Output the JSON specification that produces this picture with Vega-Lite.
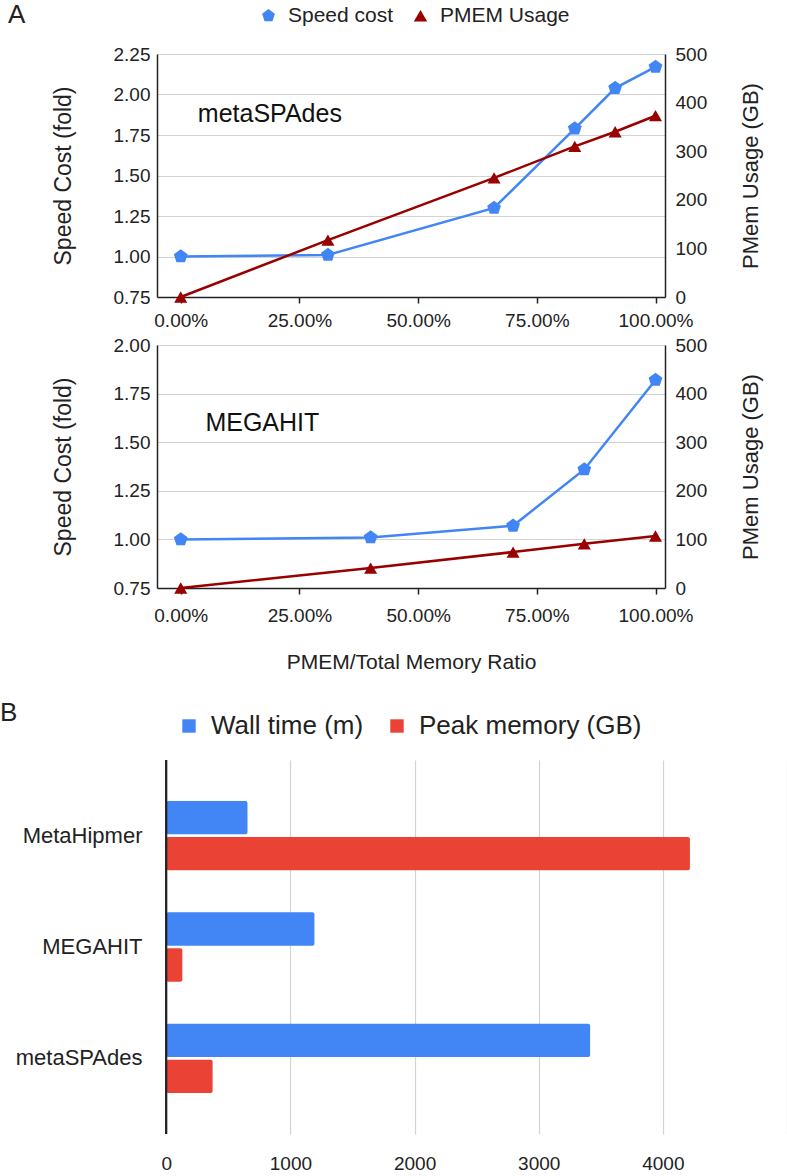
{
  "$schema": "https://vega.github.io/schema/vega-lite/v6.json",
  "background": "white",
  "padding": {"left": 0, "right": 0, "top": 5, "bottom": 0},
  "config": {
    "view": {"stroke": null},
    "font": "Liberation Sans",
    "axis": {
      "labelFont": "Liberation Sans",
      "labelFontSize": 19,
      "labelColor": "#222222",
      "titleFont": "Liberation Sans",
      "titleFontWeight": "normal",
      "titleColor": "#222222",
      "domainColor": "#222222",
      "tickColor": "#222222",
      "gridColor": "#d3d3d3",
      "gridWidth": 1.2
    },
    "legend": {"titleFontWeight": "normal", "titleColor": "#222222", "labelColor": "#222222", "labelLimit": 400}
  },
  "datasets": {
    "lines": [
      {"panel": "metaSPAdes", "series": "Speed cost", "ratio": 0, "value": 1.0},
      {"panel": "metaSPAdes", "series": "Speed cost", "ratio": 0.31, "value": 1.01},
      {"panel": "metaSPAdes", "series": "Speed cost", "ratio": 0.66, "value": 1.3},
      {"panel": "metaSPAdes", "series": "Speed cost", "ratio": 0.83, "value": 1.79},
      {"panel": "metaSPAdes", "series": "Speed cost", "ratio": 0.915, "value": 2.04},
      {"panel": "metaSPAdes", "series": "Speed cost", "ratio": 1.0, "value": 2.17},
      {"panel": "metaSPAdes", "series": "PMEM Usage", "ratio": 0, "value": 0},
      {"panel": "metaSPAdes", "series": "PMEM Usage", "ratio": 0.31, "value": 117},
      {"panel": "metaSPAdes", "series": "PMEM Usage", "ratio": 0.66, "value": 245},
      {"panel": "metaSPAdes", "series": "PMEM Usage", "ratio": 0.83, "value": 310},
      {"panel": "metaSPAdes", "series": "PMEM Usage", "ratio": 0.915, "value": 340},
      {"panel": "metaSPAdes", "series": "PMEM Usage", "ratio": 1.0, "value": 373},
      {"panel": "MEGAHIT", "series": "Speed cost", "ratio": 0, "value": 1.0},
      {"panel": "MEGAHIT", "series": "Speed cost", "ratio": 0.4, "value": 1.01},
      {"panel": "MEGAHIT", "series": "Speed cost", "ratio": 0.7, "value": 1.07},
      {"panel": "MEGAHIT", "series": "Speed cost", "ratio": 0.85, "value": 1.36},
      {"panel": "MEGAHIT", "series": "Speed cost", "ratio": 1.0, "value": 1.82},
      {"panel": "MEGAHIT", "series": "PMEM Usage", "ratio": 0, "value": 0},
      {"panel": "MEGAHIT", "series": "PMEM Usage", "ratio": 0.4, "value": 41},
      {"panel": "MEGAHIT", "series": "PMEM Usage", "ratio": 0.7, "value": 74},
      {"panel": "MEGAHIT", "series": "PMEM Usage", "ratio": 0.85, "value": 91},
      {"panel": "MEGAHIT", "series": "PMEM Usage", "ratio": 1.0, "value": 107}
    ],
    "bars": [
      {"tool": "MetaHipmer", "series": "Wall time (m)", "value": 654},
      {"tool": "MetaHipmer", "series": "Peak memory (GB)", "value": 4218},
      {"tool": "MEGAHIT", "series": "Wall time (m)", "value": 1193},
      {"tool": "MEGAHIT", "series": "Peak memory (GB)", "value": 129},
      {"tool": "metaSPAdes", "series": "Wall time (m)", "value": 3414},
      {"tool": "metaSPAdes", "series": "Peak memory (GB)", "value": 373}
    ]
  },
  "spacing": 41,
  "resolve": {"scale": {"color": "independent", "shape": "independent"}, "legend": {"color": "independent", "shape": "independent"}},
  "vconcat": [
    {
      "spacing": 48,
      "bounds": "flush",
      "resolve": {"scale": {"color": "independent", "shape": "independent"}, "legend": {"color": "independent", "shape": "independent"}},
      "vconcat": [
        {
          "width": 508,
          "height": 243,
          "data": {"name": "lines"},
          "resolve": {"scale": {"y": "independent"}},
          "layer": [
            {
              "encoding": {
                "x": {"field": "ratio", "type": "quantitative", "scale": {"domain": [-0.05, 1.02], "nice": false, "zero": false},
                  "axis": {"values": [0, 0.25, 0.5, 0.75, 1], "format": ".2%", "grid": false, "title": null, "tickSize": 6, "labelPadding": 8, "domainWidth": 1.5, "tickWidth": 1.5, "labelFlush": false}},
                "y": {"field": "value", "type": "quantitative", "scale": {"domain": [0.75, 2.25], "nice": false, "zero": false},
                  "axis": {"values": [0.75, 1, 1.25, 1.5, 1.75, 2, 2.25], "format": ".2f", "grid": true, "ticks": false, "labelPadding": 7, "title": "Speed Cost (fold)", "titleFontSize": 23, "titlePadding": 38, "domainWidth": 1.5}}
              },
              "transform": [{"filter": "datum.panel == 'metaSPAdes' && datum.series == 'Speed cost'"}],
              "layer": [
                {"mark": {"type": "line", "color": "#4285F4", "strokeWidth": 2.5}},
                {"mark": {"type": "point", "filled": true, "opacity": 1, "size": 210},
                 "encoding": {
                   "color": {"field": "series", "type": "nominal", "scale": {"domain": ["Speed cost", "PMEM Usage"], "range": ["#4285F4", "#990000"]},
                     "legend": {"orient": "none", "legendX": -149, "legendY": -49, "direction": "horizontal", "title": "A", "titleOrient": "left", "titleFont": "Liberation Sans", "titleFontSize": 26, "titlePadding": 232, "labelFont": "Liberation Sans", "labelFontSize": 21, "symbolSize": 180, "columnPadding": 16, "labelOffset": 9}},
                   "shape": {"field": "series", "type": "nominal", "scale": {"domain": ["Speed cost", "PMEM Usage"], "range": ["M0,-1L0.951,-0.309L0.588,0.809L-0.588,0.809L-0.951,-0.309Z", "triangle-up"]},
                     "legend": {"orient": "none", "legendX": -149, "legendY": -49, "direction": "horizontal", "title": "A", "titleOrient": "left", "titleFont": "Liberation Sans", "titleFontSize": 26, "titlePadding": 232, "labelFont": "Liberation Sans", "labelFontSize": 21, "symbolSize": 180, "columnPadding": 16, "labelOffset": 9}}
                 }},
                {"transform": [{"filter": "datum.ratio == 0"}],
                 "mark": {"type": "text", "text": "metaSPAdes", "align": "left", "baseline": "middle", "fontSize": 25, "font": "Liberation Sans", "color": "#111111"},
                 "encoding": {"x": {"datum": 0.036}, "y": {"datum": 1.88}}}
              ]
            },
            {
              "encoding": {
                "x": {"field": "ratio", "type": "quantitative"},
                "y": {"field": "value", "type": "quantitative", "scale": {"domain": [0, 500], "nice": false},
                  "axis": {"orient": "right", "values": [0, 100, 200, 300, 400, 500], "grid": false, "ticks": false, "labelPadding": 10, "title": "PMem Usage (GB)", "titleAngle": 270, "titleFontSize": 22, "titlePadding": 56, "domainWidth": 1.5}}
              },
              "transform": [{"filter": "datum.panel == 'metaSPAdes' && datum.series == 'PMEM Usage'"}],
              "layer": [
                {"mark": {"type": "line", "color": "#990000", "strokeWidth": 2.5}},
                {"mark": {"type": "point", "filled": true, "opacity": 1, "size": 170},
                 "encoding": {
                   "color": {"field": "series", "type": "nominal"},
                   "shape": {"field": "series", "type": "nominal"}
                 }}
              ]
            }
          ]
        },
        {
          "width": 508,
          "height": 243,
          "data": {"name": "lines"},
          "resolve": {"scale": {"y": "independent"}},
          "layer": [
            {
              "encoding": {
                "x": {"field": "ratio", "type": "quantitative", "scale": {"domain": [-0.05, 1.02], "nice": false, "zero": false},
                  "axis": {"values": [0, 0.25, 0.5, 0.75, 1], "format": ".2%", "grid": false, "title": "PMEM/Total Memory Ratio", "titleFontSize": 21, "titlePadding": 26, "tickSize": 6, "labelPadding": 12, "domainWidth": 1.5, "tickWidth": 1.5, "labelFlush": false}},
                "y": {"field": "value", "type": "quantitative", "scale": {"domain": [0.75, 2.0], "nice": false, "zero": false},
                  "axis": {"values": [0.75, 1, 1.25, 1.5, 1.75, 2], "format": ".2f", "grid": true, "ticks": false, "labelPadding": 7, "title": "Speed Cost (fold)", "titleFontSize": 23, "titlePadding": 38, "domainWidth": 1.5}}
              },
              "transform": [{"filter": "datum.panel == 'MEGAHIT' && datum.series == 'Speed cost'"}],
              "layer": [
                {"mark": {"type": "line", "color": "#4285F4", "strokeWidth": 2.5}},
                {"mark": {"type": "point", "filled": true, "opacity": 1, "size": 210},
                 "encoding": {
                   "color": {"field": "series", "type": "nominal", "scale": {"domain": ["Speed cost", "PMEM Usage"], "range": ["#4285F4", "#990000"]}, "legend": null},
                   "shape": {"field": "series", "type": "nominal", "scale": {"domain": ["Speed cost", "PMEM Usage"], "range": ["M0,-1L0.951,-0.309L0.588,0.809L-0.588,0.809L-0.951,-0.309Z", "triangle-up"]}, "legend": null}
                 }},
                {"transform": [{"filter": "datum.ratio == 0"}],
                 "mark": {"type": "text", "text": "MEGAHIT", "align": "left", "baseline": "middle", "fontSize": 25, "font": "Liberation Sans", "color": "#111111"},
                 "encoding": {"x": {"datum": 0.052}, "y": {"datum": 1.6}}}
              ]
            },
            {
              "encoding": {
                "x": {"field": "ratio", "type": "quantitative"},
                "y": {"field": "value", "type": "quantitative", "scale": {"domain": [0, 500], "nice": false},
                  "axis": {"orient": "right", "values": [0, 100, 200, 300, 400, 500], "grid": false, "ticks": false, "labelPadding": 10, "title": "PMem Usage (GB)", "titleAngle": 270, "titleFontSize": 22, "titlePadding": 56, "domainWidth": 1.5}}
              },
              "transform": [{"filter": "datum.panel == 'MEGAHIT' && datum.series == 'PMEM Usage'"}],
              "layer": [
                {"mark": {"type": "line", "color": "#990000", "strokeWidth": 2.5}},
                {"mark": {"type": "point", "filled": true, "opacity": 1, "size": 170},
                 "encoding": {
                   "color": {"field": "series", "type": "nominal", "legend": null},
                   "shape": {"field": "series", "type": "nominal", "legend": null}
                 }}
              ]
            }
          ]
        }
      ]
    },
    {
      "width": 630,
      "height": 374,
      "data": {"name": "bars"},
      "layer": [
        {
          "mark": {"type": "bar", "cornerRadiusEnd": 2},
          "encoding": {
            "y": {"field": "tool", "type": "nominal", "sort": ["MetaHipmer", "MEGAHIT", "metaSPAdes"], "scale": {"paddingInner": 0.377, "paddingOuter": 0.368},
              "axis": {"title": null, "ticks": false, "domain": false, "labelFontSize": 22, "labelPadding": 15}},
            "yOffset": {"field": "series", "type": "nominal", "sort": ["Wall time (m)", "Peak memory (GB)"], "scale": {"paddingInner": 0.075}},
            "x": {"field": "value", "type": "quantitative", "stack": null, "scale": {"domain": [-75, 5000], "nice": false, "zero": false},
              "axis": {"values": [0, 1000, 2000, 3000, 4000, 5000], "format": "d", "labelExpr": "datum.value == 5000 ? '' : datum.label", "grid": true, "domain": false, "ticks": false, "title": null, "labelFontSize": 19, "labelPadding": 20}},
            "x2": {"datum": 0},
            "color": {"field": "series", "type": "nominal", "scale": {"domain": ["Wall time (m)", "Peak memory (GB)"], "range": ["#4285F4", "#EA4335"]},
              "legend": {"orient": "none", "legendX": -157, "legendY": -47, "direction": "horizontal", "title": "B", "titleOrient": "left", "titleAnchor": "start", "titleBaseline": "middle", "titleFont": "Liberation Sans", "titleFontSize": 26, "titlePadding": 158, "labelFont": "Liberation Sans", "labelFontSize": 26, "symbolType": "square", "symbolSize": 180, "columnPadding": 20, "labelOffset": 9}}
          }
        },
        {
          "mark": {"type": "rule", "color": "#222222", "strokeWidth": 1.5},
          "encoding": {"x": {"datum": 0}}
        }
      ]
    }
  ]
}
